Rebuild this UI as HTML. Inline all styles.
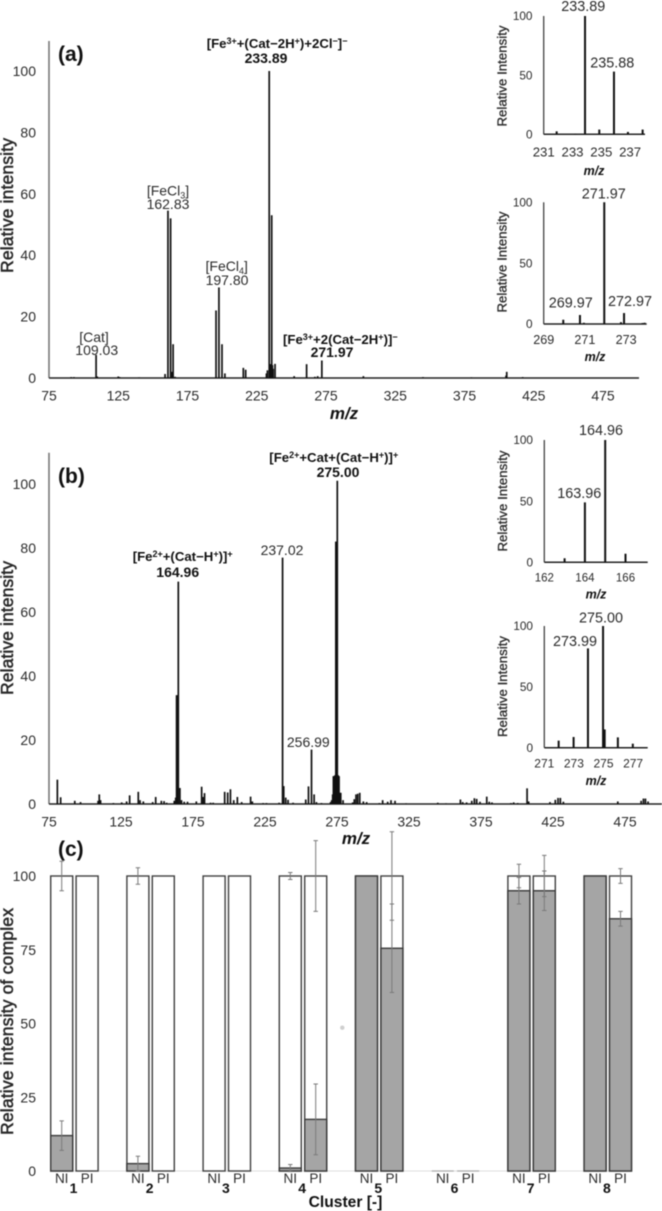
<!DOCTYPE html>
<html lang="en">
<head>
<meta charset="utf-8">
<title>Mass spectra and relative intensity of complexes</title>
<style>
html,body{margin:0;padding:0;background:#fff;width:662px;height:1211px;overflow:hidden}
svg{display:block;filter:blur(0.5px)}
text{font-family:"Liberation Sans",Arial,sans-serif;fill:#2b2b2b}
.lbl{font-size:14px}
.lbi{font-size:14.4px}
.anb{font-size:13.2px;font-weight:bold;fill:#111}
.num{font-size:14px;font-weight:bold;fill:#111}
.title{font-size:17.6px;stroke:#222;stroke-width:.5px}
.panel{font-size:21px;font-weight:bold;fill:#111}
.mz{font-size:17px;font-weight:bold;font-style:italic;fill:#111}
.mzs{font-size:12.5px;font-weight:bold;font-style:italic;fill:#111}
.ri{font-size:13.2px;stroke:#222;stroke-width:.3px}
.cl{font-size:14px;font-weight:bold;fill:#111}
</style>
</head>
<body>
<svg id="chart" width="662" height="1211" viewBox="0 0 662 1211" xmlns="http://www.w3.org/2000/svg">
  <rect width="662" height="1211" fill="#fff"/>

  <text class="panel" x="58" y="61">(a)</text>
  <text class="title" transform="translate(13,273) rotate(-90)" textLength="135">Relative intensity</text>
  <text class="mz" x="344" y="419" text-anchor="middle">m/z</text>
  <text class="anb" x="206.7" y="48">[Fe<tspan font-size="9" dy="-4">3+</tspan><tspan dy="4">+(Cat−2H</tspan><tspan font-size="9" dy="-4">+</tspan><tspan dy="4">)+2Cl</tspan><tspan font-size="9" dy="-4">−</tspan><tspan dy="4">]</tspan><tspan font-size="9" dy="-4">−</tspan></text>
  <text class="num" x="266" y="63" text-anchor="middle">233.89</text>
  <text class="lbl" x="168" y="195.5" text-anchor="middle">[FeCl<tspan font-size="9" dy="3">3</tspan><tspan dy="-3">]</tspan></text>
  <text class="lbl" x="168" y="209" text-anchor="middle">162.83</text>
  <text class="lbl" x="94" y="342" text-anchor="middle">[Cat]</text>
  <text class="lbl" x="96.7" y="355" text-anchor="middle">109.03</text>
  <text class="lbl" x="226.7" y="271" text-anchor="middle">[FeCl<tspan font-size="9" dy="3">4</tspan><tspan dy="-3">]</tspan></text>
  <text class="lbl" x="227" y="285" text-anchor="middle">197.80</text>
  <text class="anb" x="283" y="344">[Fe<tspan font-size="9" dy="-4">3+</tspan><tspan dy="4">+2(Cat−2H</tspan><tspan font-size="9" dy="-4">+</tspan><tspan dy="4">)]</tspan><tspan font-size="9" dy="-4">−</tspan></text>
  <text class="num" x="332" y="357" text-anchor="middle">271.97</text>

  <text class="panel" x="58" y="483">(b)</text>
  <text class="title" transform="translate(13,695) rotate(-90)" textLength="134">Relative intensity</text>
  <text class="mz" x="356" y="844" text-anchor="middle">m/z</text>
  <text class="anb" x="132.7" y="561">[Fe<tspan font-size="9" dy="-4">2+</tspan><tspan dy="4">+(Cat−H</tspan><tspan font-size="9" dy="-4">+</tspan><tspan dy="4">)]</tspan><tspan font-size="9" dy="-4">+</tspan></text>
  <text class="num" x="177.7" y="577" text-anchor="middle">164.96</text>
  <text class="lbl" x="282" y="555" text-anchor="middle">237.02</text>
  <text class="anb" x="269.3" y="462">[Fe<tspan font-size="9" dy="-4">2+</tspan><tspan dy="4">+Cat+(Cat−H</tspan><tspan font-size="9" dy="-4">+</tspan><tspan dy="4">)]</tspan><tspan font-size="9" dy="-4">+</tspan></text>
  <text class="num" x="338" y="477" text-anchor="middle">275.00</text>
  <text class="lbl" x="308.3" y="747" text-anchor="middle">256.99</text>

  <text class="ri" transform="translate(506.5,126.5) rotate(-90)" textLength="101">Relative Intensity</text>
  <text class="mzs" x="594" y="175" text-anchor="middle">m/z</text>
  <text class="lbi" x="583.3" y="11" text-anchor="middle">233.89</text>
  <text class="lbi" x="612.3" y="67.5" text-anchor="middle">235.88</text>

  <text class="ri" transform="translate(506.5,312.5) rotate(-90)" textLength="101">Relative Intensity</text>
  <text class="mzs" x="595" y="361" text-anchor="middle">m/z</text>
  <text class="lbi" x="603.7" y="198.5" text-anchor="middle">271.97</text>
  <text class="lbi" x="570.7" y="307.5" text-anchor="middle">269.97</text>
  <text class="lbi" x="630" y="306" text-anchor="middle">272.97</text>

  <text class="ri" transform="translate(507,551.5) rotate(-90)" textLength="101">Relative Intensity</text>
  <text class="mzs" x="596" y="598.5" text-anchor="middle">m/z</text>
  <text class="lbi" x="601" y="435" text-anchor="middle">164.96</text>
  <text class="lbi" x="579.3" y="498" text-anchor="middle">163.96</text>

  <text class="ri" transform="translate(507,737) rotate(-90)" textLength="101">Relative Intensity</text>
  <text class="mzs" x="596" y="785" text-anchor="middle">m/z</text>
  <text class="lbi" x="601" y="622.5" text-anchor="middle">275.00</text>
  <text class="lbi" x="575" y="646" text-anchor="middle">273.99</text>

  <text class="panel" x="58" y="856">(c)</text>
  <text class="title" transform="translate(13,1135) rotate(-90)" textLength="227">Relative intensity of complex</text>
  <text x="345.5" y="1207" text-anchor="middle" style="font-size:15.6px;font-weight:bold;fill:#111">Cluster [-]</text>
  <circle cx="342.3" cy="1027.7" r="2.2" fill="#cfcfcf"/>
</svg>

<script>
// Panel (a) full spectrum
const aMz = [91,93,109,109.8,125,126,140,158.8,160.9,162.8,163.8,164.2,164.6,166,195.6,197.7,199.9,202,215.3,217,232,232.7,234,234.8,235.2,235.8,236.3,236.8,238.2,252,261,267,269,272,302,345,380,405.5,405,417];
const aInt = [.3,.3,7.5,.5,.5,.3,.2,1.3,54.5,52,2,2,11,.4,22,29.5,11,1.5,3.3,2.7,1.5,2.5,100,4.5,4.5,53,4.2,3,4.6,.6,4.5,.4,.6,5.7,.6,.3,.2,2,.8,.3];
const aXTicks = [75,125,175,225,275,325,375,425,475];
const aYTicks = [0,20,40,60,80,100];

// Panel (b) full spectrum
const bMz = [80.8,83.1,92.9,96.9,109.1,109.9,110.8,119.7,125.5,128.9,131,137,138.2,140.5,147,149.1,153,154.9,156.7,162,163,163.6,164,164.4,164.8,165.9,167,168.9,171.2,177.3,181,182.2,183,187.2,189,197,199.1,201,203.3,205.8,208.8,215,216.2,223.7,226,234.8,237.2,238,239.4,241,244.5,253.3,255.2,257.3,259.1,260.7,264.2,270.5,271.3,272,272.5,273,273.6,274.2,274.7,275.2,275.8,276.4,277,277.6,279.2,285.9,287,288.2,289.4,290.8,293.3,295.6,304.4,306.7,310.2,312.5,315.3,323,345,350.7,360.7,362.3,365,368.6,370.4,372,374.3,379,380.7,382.6,395.8,397.7,400.5,407,408.1,422.9,426.6,428.5,430.1,432.2,470,486.2,487.8,489.2,491];
const bInt = [7.6,2.1,1,.6,1,3,1.2,.3,.5,.8,2.7,3.8,1.2,.8,.6,2.2,1,.9,.4,1,2,34,34,5,69.5,5,1.2,.7,.7,.8,5.4,2.2,3.4,.4,.4,3.8,3.6,4.6,1.2,2.2,.6,2.3,.8,.3,.3,.4,77,5.6,2,1.3,.4,1.4,5.5,17,3,.6,.3,.6,1.2,3,8.7,8.7,9,82,82,101,9,8.7,3.5,3.5,1.2,.5,1.5,3,3.2,3.5,.8,.6,.3,1.2,.7,1.2,1,.2,.4,.2,1.4,.6,.5,1,1.8,1.6,.7,2.3,.7,.5,.3,.5,.3,4.9,.8,.6,1.3,1.9,1.9,.7,.8,1,1.7,1.7,.8];
const bXTicks = [75,125,175,225,275,325,375,425,475];
const bYTicks = [0,20,40,60,80,100];

// Insets
const a1Mz = [231.9,233.2,233.87,234.86,235.88,236.85,237.87];
const a1Int = [2.5,.4,100,4,53,2,4];
const a1XTicks = [231,233,235,237];
const a2Mz = [269.95,270.76,270.95,271.94,272.75,272.9,273.8,273.9];
const a2Int = [3.5,7.4,1,100,1.5,9,.8,1];
const a2XTicks = [269,271,273];
const b1Mz = [163,164,165,166];
const b1Int = [3.3,49,100,7];
const b1XTicks = [162,164,166];
const b2Mz = [271.97,272.98,273.95,274.97,275.08,275.97,276.98];
const b2Int = [5.8,8.8,81.6,100,15,8.5,3.3];
const b2XTicks = [271,273,275,277];
const insetYTicks = [0,50,100];

// Panel (c) stacked bars
const clusters = ['1','2','3','4','5','6','7','8'];
const sideLabels = ['NI','PI'];
const niTotal = [100,100,100,100,100,0,100,100];
const piTotal = [100,100,100,100,100,0,100,100];
const niGrey = [12,2.5,0,1,100,0,95,100];
const piGrey = [0,0,0,17.5,75.5,0,95,85.5];
const niGreyErr = [5,2.5,0,1.2,0,0,4.5,0];
const piGreyErr = [0,0,0,12,15,0,6.7,2.5];
const niTopErr = [5,2.8,0,1.2,0,0,4,0];
const piTopErr = [0,0,0,12,15,0,7,2.5];
const cYTicks = [0,25,50,75,100];

const svg = document.getElementById('chart');
const NS = 'http://www.w3.org/2000/svg';

function mk(tag, attrs) {
  const el = document.createElementNS(NS, tag);
  for (const k in attrs) el.setAttribute(k, attrs[k]);
  return el;
}

function label(txt, x, y, anchor, size) {
  const el = mk('text', {x: x, y: y, 'text-anchor': anchor});
  el.style.fontSize = size + 'px';
  el.textContent = txt;
  
  svg.appendChild(el);
  return el;
}

function drawSpectrum(mzs, ints, xs, ys, width, color) {
  mzs.forEach(function (m, i) {
    const p = mk('line', {x1: xs(m), x2: xs(m), y1: ys(0), y2: ys(ints[i]), stroke: color, 'stroke-width': width});
    
    
    svg.appendChild(p);
  });
}

function drawAxes(xs, ys, xEnd, yTop, axisColor, axisW, baseColor) {
  const ya = mk('line', {x1: xs.x0, x2: xs.x0, y1: yTop, y2: ys(0), stroke: axisColor, 'stroke-width': axisW});
  
  
  svg.appendChild(ya);
  const xa = mk('line', {x1: xs.x0, x2: xEnd, y1: ys(0), y2: ys(0), stroke: baseColor, 'stroke-width': 1.5});
  
  
  svg.appendChild(xa);
}

function drawYTicks(ticks, ys, right, size) {
  ticks.forEach(function (t) {
    const el = label(String(t), right, ys(t) + size * 0.36, 'end', size);
    
  });
}

function drawXTicks(ticks, xs, y, size) {
  ticks.forEach(function (t) {
    const el = label(String(t), xs(t), y, 'middle', size);
    
  });
}

function linScale(d0, r0, k) {
  const f = function (v) { return r0 + (v - d0) * k; };
  f.x0 = r0;
  return f;
}

// Panel (a)
const xA = linScale(75, 49, 1.385);
const yA = linScale(0, 378, -3.07);
drawAxes(xA, yA, 639, 41, '#777', 1.6, '#222');
drawSpectrum(aMz, aInt, xA, yA, 1.7, '#111');
drawYTicks(aYTicks, yA, 36, 14);
drawXTicks(aXTicks, xA, 400.7, 14);

// Panel (b)
const xB = linScale(75, 49, 1.44);
const yB = linScale(0, 804, -3.2);
drawAxes(xB, yB, 662, 452.7, '#777', 1.6, '#222');
drawSpectrum(bMz, bInt, xB, yB, 1.7, '#111');
drawYTicks(bYTicks, yB, 36, 14);
drawXTicks(bXTicks, xB, 826.7, 14);

// Inset a1
const xA1 = linScale(231, 543.7, 14.4);
const yA1 = linScale(0, 134.3, -1.183);
drawAxes(xA1, yA1, 645, 16, '#333', 1.2, '#222');
drawSpectrum(a1Mz, a1Int, xA1, yA1, 2, '#111');
drawYTicks(insetYTicks, yA1, 532.5, 11.8);
drawXTicks(a1XTicks, xA1, 156.5, 13.2);

// Inset a2
const xA2 = linScale(269, 543.7, 20.6);
const yA2 = linScale(0, 324, -1.217);
drawAxes(xA2, yA2, 646.7, 202.3, '#333', 1.2, '#222');
drawSpectrum(a2Mz, a2Int, xA2, yA2, 2, '#111');
drawYTicks(insetYTicks, yA2, 532.5, 11.8);
drawXTicks(a2XTicks, xA2, 344, 12.6);

// Inset b1
const xB1 = linScale(162, 544.3, 20.3);
const yB1 = linScale(0, 562.3, -1.223);
drawAxes(xB1, yB1, 647.7, 440, '#333', 1.2, '#222');
drawSpectrum(b1Mz, b1Int, xB1, yB1, 2, '#111');
drawYTicks(insetYTicks, yB1, 533, 11.8);
drawXTicks(b1XTicks, xB1, 581.5, 11.5);

// Inset b2
const xB2 = linScale(271, 544.3, 14.8);
const yB2 = linScale(0, 747.7, -1.217);
drawAxes(xB2, yB2, 647.7, 626, '#333', 1.2, '#222');
drawSpectrum(b2Mz, b2Int, xB2, yB2, 2, '#111');
drawYTicks(insetYTicks, yB2, 533, 11.8);
drawXTicks(b2XTicks, xB2, 767.5, 12);

// Panel (c)
const yC = linScale(0, 1171, -2.95);
const barW = 22;
function xBar(i, side) { return 50.7 + 76.2 * i + (side ? 25.4 : 0); }

const cBase = mk('line', {x1: 50, x2: 632, y1: yC(0), y2: yC(0), stroke: '#ddd', 'stroke-width': 1});


svg.appendChild(cBase);

function drawErr(cx, v, e) {
  const g = mk('path', {
    d: 'M' + cx + ' ' + yC(v - e) + 'V' + yC(v + e) +
       'M' + (cx - 2.2) + ' ' + yC(v - e) + 'h4.4M' + (cx - 2.2) + ' ' + yC(v + e) + 'h4.4',
    stroke: '#7a7a7a', 'stroke-width': 1, fill: 'none'
  });
  
  
  svg.appendChild(g);
}

function drawBar(i, side, total, grey, greyErr, topErr) {
  const x = xBar(i, side);
  if (total > 0) {
    const w = mk('rect', {x: x, y: yC(total), width: barW, height: yC(0) - yC(total), fill: '#fff', stroke: '#404040', 'stroke-width': 1.4});
    
    
    svg.appendChild(w);
    if (grey > 0) {
      const r = mk('rect', {x: x, y: yC(grey), width: barW, height: yC(0) - yC(grey), fill: '#a5a5a5', stroke: '#3a3a3a', 'stroke-width': 1.4});
      
      
      svg.appendChild(r);
    }
    if (topErr > 0) drawErr(x + barW / 2, total, topErr);
    if (greyErr > 0) drawErr(x + barW / 2, grey, greyErr);
  } else {
    const z = mk('line', {x1: x, x2: x + barW, y1: yC(0), y2: yC(0), stroke: '#aaa', 'stroke-width': 1.2});
    
    
    svg.appendChild(z);
  }
}

clusters.forEach(function (c, i) {
  drawBar(i, 0, niTotal[i], niGrey[i], niGreyErr[i], niTopErr[i]);
  drawBar(i, 1, piTotal[i], piGrey[i], piGreyErr[i], piTopErr[i]);
  const n = label(sideLabels[0], xBar(i, 0) + barW / 2, 1183, 'middle', 13.5);
  
  const p = label(sideLabels[1], xBar(i, 1) + barW / 2, 1183, 'middle', 13.5);
  
  const cl = label(c, xBar(i, 0) + barW + 0.8, 1193, 'middle', 14);
  cl.setAttribute('class', 'cl');
  
});
drawYTicks(cYTicks, yC, 36, 14);
</script>
</body>
</html>
